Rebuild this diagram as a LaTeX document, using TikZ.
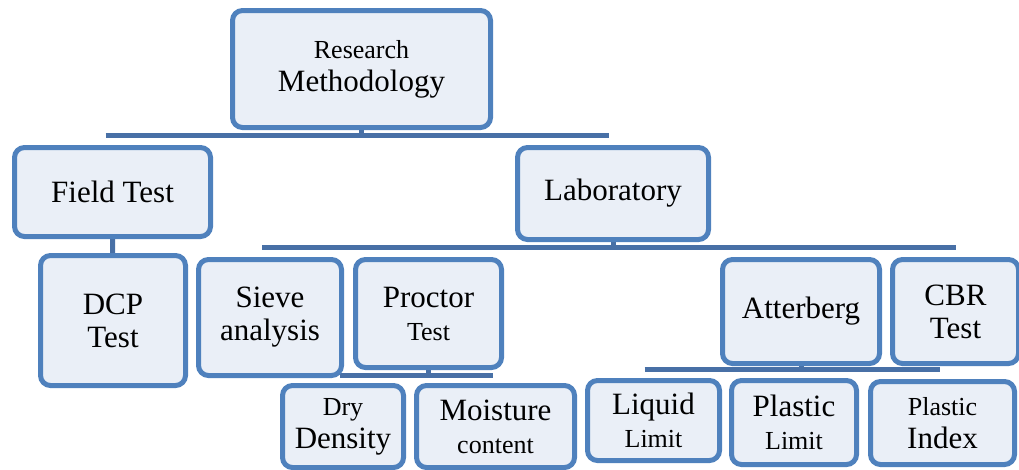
\documentclass[tikz,border=0pt]{standalone}
\usepackage{fontspec}
\setmainfont{Liberation Serif}
\usetikzlibrary{backgrounds}

\definecolor{boxblue}{RGB}{79,129,189}
\definecolor{barblue}{RGB}{72,112,166}
\definecolor{boxfill}{RGB}{234,239,247}
\newcommand{\subsize}{\fontsize{26}{30}\selectfont}

\begin{document}
\begin{tikzpicture}[x=1pt, y=-1pt,
  box/.style={draw=boxblue, line width=5pt, fill=boxfill, rounded corners=10pt,
    align=center, inner sep=0pt, font=\fontsize{31}{33}\selectfont},
  boxsize/.style 2 args={minimum width=#1pt, minimum height=#2pt},
  link/.style={draw=barblue, line width=5pt}]

  \useasboundingbox (0,0) rectangle (1019,469);

  % Top level
  \node[box, boxsize={258}{117}] (research) at (361.5,69) {{\subsize Research}\\Methodology};

  % Second level
  \node[box, boxsize={196}{89}] (field) at (112.5,192) {Field Test};
  \node[box, boxsize={191}{92}] (lab) at (613,193.5) {Laboratory};

  % Tests
  \node[box, boxsize={145}{130}] (dcp) at (113,320.5) {DCP\\Test};
  \node[box, boxsize={143}{116}] (sieve) at (270,317.5) {Sieve\\analysis};
  \node[box, boxsize={146}{108}] (proctor) at (428.5,313.5) {Proctor\\{\subsize Test}};
  \node[box, boxsize={157}{104}] (atterberg) at (801,311.5) {Atterberg};
  \node[box, boxsize={126}{104}] (cbr) at (955.5,311.5) {CBR\\Test};

  % Results
  \node[box, boxsize={121}{82}] (dry) at (343,426.5) {{\subsize Dry}\\Density};
  \node[box, boxsize={158}{82}] (moisture) at (495.5,426.5) {Moisture\\{\subsize content}};
  \node[box, boxsize={132}{80}] (liquid) at (653.5,420.5) {Liquid\\{\subsize Limit}};
  \node[box, boxsize={125}{84}] (plimit) at (794,422.5) {Plastic\\{\subsize Limit}};
  \node[box, boxsize={144}{83}] (pindex) at (942.5,423) {{\subsize Plastic}\\Index};

  % Bar heights
  \coordinate (rbar) at (0,135);
  \coordinate (lbar) at (0,247);
  \coordinate (pbar) at (0,375);
  \coordinate (abar) at (0,369);

  % Connectors
  \begin{scope}[on background layer]
    \draw[link] (research) -- (research |- rbar);
    \draw[link, shorten <=-7pt, shorten >=4pt] (field |- rbar) -- (lab |- rbar);

    \draw[link] (field) -- (dcp);

    \draw[link] (lab) -- (lab |- lbar);
    \draw[link, shorten <=-8pt] (sieve |- lbar) -- (cbr |- lbar);

    \draw[link] (proctor) -- (proctor |- pbar);
    \draw[link, shorten <=-3pt, shorten >=3pt] (dry |- pbar) -- (moisture |- pbar);

    \draw[link] (atterberg) -- (atterberg |- abar);
    \draw[link, shorten <=-9pt, shorten >=3pt] (liquid |- abar) -- (pindex |- abar);
  \end{scope}

\end{tikzpicture}
\end{document}
